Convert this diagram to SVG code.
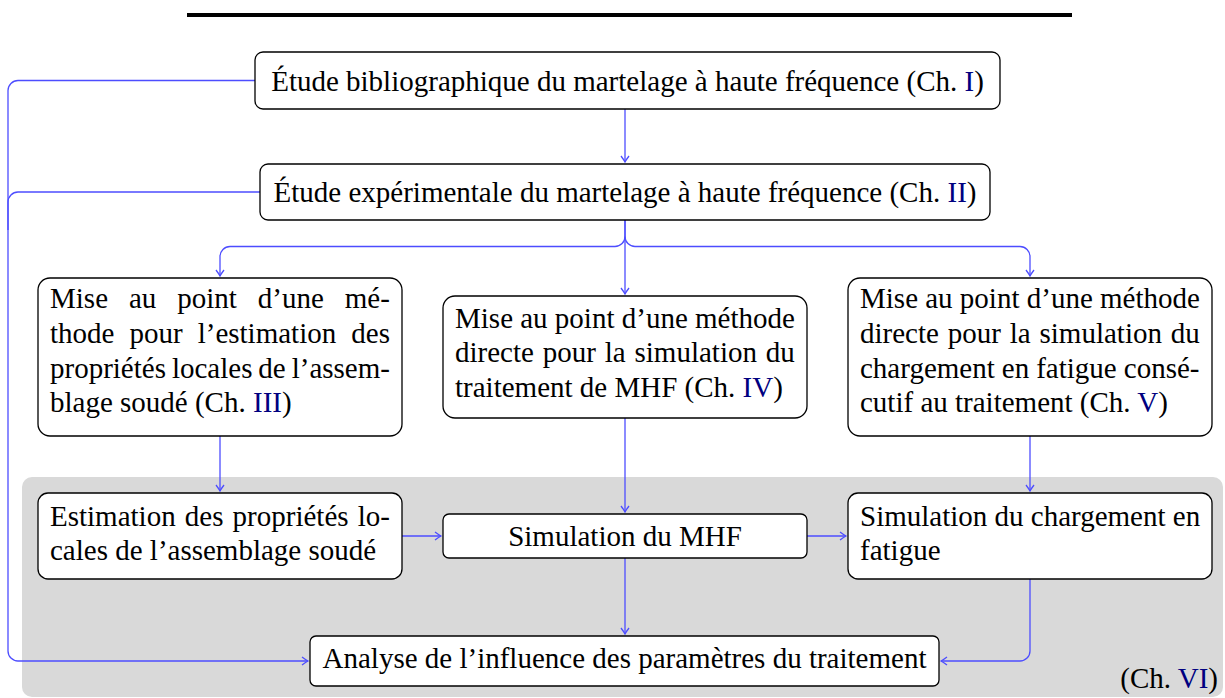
<svg xmlns="http://www.w3.org/2000/svg" width="1225" height="698" viewBox="0 0 1225 698">
<defs>
<style>
.box{fill:#fff;stroke:#000;stroke-width:1.3}
.t{font-family:"Liberation Serif","Times New Roman",serif;font-size:29px;fill:#000}
.c{text-anchor:middle}
.ch{fill:#000080}
.con{fill:none;stroke:#4d4dff;stroke-width:1.3}
</style>
<marker id="ah" viewBox="-8 -5 10 10" refX="0" refY="0" markerWidth="10" markerHeight="10" markerUnits="userSpaceOnUse" orient="auto">
<path d="M-6,-4 Q-2,-1 0,0 Q-2,1 -6,4" fill="none" stroke="#4d4dff" stroke-width="1.3"/>
</marker>
</defs>
<rect x="0" y="0" width="1225" height="698" fill="#fff"/>
<rect x="187" y="13" width="885" height="4" fill="#000"/>
<rect x="22" y="477" width="1201" height="220" rx="10" fill="#d9d9d9"/>

<g id="connectors">
<path class="con" d="M255,80.5 H18 A10,10 0 0 0 8,90.5 V651 A10,10 0 0 0 18,661 H308" marker-end="url(#ah)"/>
<path class="con" d="M260,192 H18 A10,10 0 0 0 8,202 V230"/>
<path class="con" d="M625,109 V162" marker-end="url(#ah)"/>
<path class="con" d="M625,220 V294" marker-end="url(#ah)"/>
<path class="con" d="M625,220 V236.5 A10,10 0 0 1 615,246.5 H230 A10,10 0 0 0 220,256.5 V276" marker-end="url(#ah)"/>
<path class="con" d="M625,236.5 A10,10 0 0 0 635,246.5 H1020 A10,10 0 0 1 1030,256.5 V276" marker-end="url(#ah)"/>
<path class="con" d="M220,436 V491" marker-end="url(#ah)"/>
<path class="con" d="M625,418 V512" marker-end="url(#ah)"/>
<path class="con" d="M1030,436 V491" marker-end="url(#ah)"/>
<path class="con" d="M402,536 H441" marker-end="url(#ah)"/>
<path class="con" d="M807,536 H846" marker-end="url(#ah)"/>
<path class="con" d="M625,558 V634" marker-end="url(#ah)"/>
<path class="con" d="M1030,579 V651 A10,10 0 0 1 1020,661 H941" marker-end="url(#ah)"/>
</g>

<g id="n1">
<rect class="box" x="255" y="52" width="745" height="57" rx="8"/>
<text class="t c" x="627.5" y="91">Étude bibliographique du martelage à haute fréquence (Ch. <tspan class="ch">I</tspan>)</text>
</g>
<g id="n2">
<rect class="box" x="260" y="164" width="730" height="56" rx="8"/>
<text class="t c" x="625" y="202">Étude expérimentale du martelage à haute fréquence (Ch. <tspan class="ch">II</tspan>)</text>
</g>
<g id="n3">
<rect class="box" x="38" y="278" width="364" height="158" rx="12"/>
<text class="t" x="50" y="308" word-spacing="13.7">Mise au point d’une mé-</text>
<text class="t" x="50" y="343" word-spacing="7.8">thode pour l’estimation des</text>
<text class="t" x="50" y="377.5" word-spacing="-1.3">propriétés locales de l’assem-</text>
<text class="t" x="50" y="412">blage soudé (Ch. <tspan class="ch">III</tspan>)</text>
</g>
<g id="n4">
<rect class="box" x="443" y="296" width="364" height="122" rx="12"/>
<text class="t" x="455" y="327.5">Mise au point d’une méthode</text>
<text class="t" x="455" y="362" word-spacing="1.6">directe pour la simulation du</text>
<text class="t" x="455" y="396.5">traitement de MHF (Ch. <tspan class="ch">IV</tspan>)</text>
</g>
<g id="n5">
<rect class="box" x="848" y="278" width="364" height="158" rx="12"/>
<text class="t" x="860" y="308">Mise au point d’une méthode</text>
<text class="t" x="860" y="343" word-spacing="1.6">directe pour la simulation du</text>
<text class="t" x="860" y="377.5" word-spacing="-0.2">chargement en fatigue consé-</text>
<text class="t" x="860" y="412">cutif au traitement (Ch. <tspan class="ch">V</tspan>)</text>
</g>
<g id="n6">
<rect class="box" x="38" y="493" width="364" height="86" rx="10"/>
<text class="t" x="50" y="525.5" word-spacing="1.9">Estimation des propriétés lo-</text>
<text class="t" x="50" y="560">cales de l’assemblage soudé</text>
</g>
<g id="n7">
<rect class="box" x="443" y="514" width="364" height="44" rx="6"/>
<text class="t c" x="625" y="546">Simulation du MHF</text>
</g>
<g id="n8">
<rect class="box" x="848" y="493" width="364" height="86" rx="10"/>
<text class="t" x="860" y="525.5" word-spacing="0">Simulation du chargement en</text>
<text class="t" x="860" y="560">fatigue</text>
</g>
<g id="n9">
<rect class="box" x="310" y="636" width="629" height="50" rx="6"/>
<text class="t c" x="624.5" y="667.5">Analyse de l’influence des paramètres du traitement</text>
</g>
<text class="t" x="1218" y="688" text-anchor="end">(Ch. <tspan class="ch">VI</tspan>)</text>
</svg>
